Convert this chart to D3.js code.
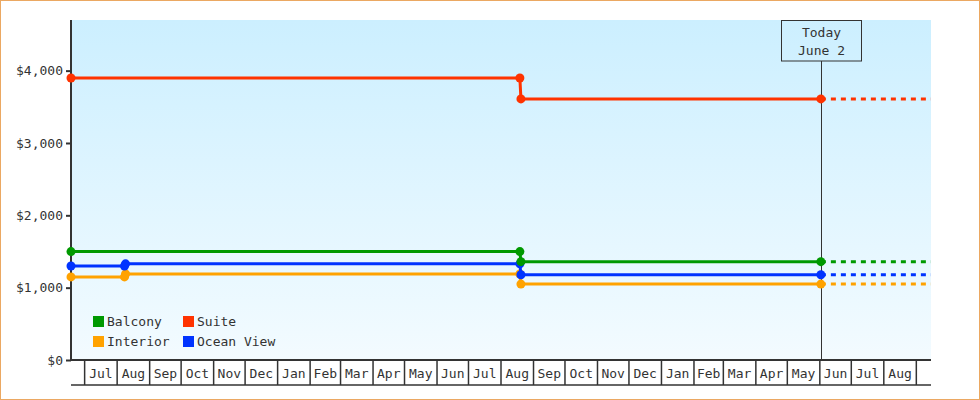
<!DOCTYPE html>
<html>
<head>
<meta charset="utf-8">
<script src="https://cdn.jsdelivr.net/npm/d3@7"></script>
<style>
  html, body { margin: 0; padding: 0; background: #fff; }
  #chart { width: 980px; height: 400px; box-sizing: border-box; border: 1px solid #eba862; }
  text { font-family: "DejaVu Sans Mono", monospace; font-size: 13px; fill: #333; }
</style>
</head>
<body>
<div id="chart"></div>
<script>
// ── DATA ─────────────────────────────────────────────────────────────────────
const seriesNames = ['Balcony', 'Suite', 'Interior', 'Ocean View'];
const balcony   = [['2023-06-18', 1499], ['2024-08-19', 1499], ['2024-08-20', 1359], ['2025-06-02', 1359]];
const suite     = [['2023-06-18', 3899], ['2024-08-19', 3899], ['2024-08-20', 3609], ['2025-06-02', 3609]];
const interior  = [['2023-06-18', 1149], ['2023-08-08', 1149], ['2023-08-09', 1189], ['2024-08-19', 1189], ['2024-08-20', 1049], ['2025-06-02', 1049]];
const oceanView = [['2023-06-18', 1299], ['2023-08-08', 1299], ['2023-08-09', 1329], ['2024-08-19', 1329], ['2024-08-20', 1179], ['2025-06-02', 1179]];
const todayDate = '2025-06-02';
const todayLabel = ['Today', 'June 2'];
const xDomain = ['2023-06-18', '2025-09-15'];
const yDomain = [0, 4700];
const yTicks = [0, 1000, 2000, 3000, 4000];

// ── STYLE ────────────────────────────────────────────────────────────────────
const colors = { 'Balcony': '#009900', 'Suite': '#ff3300', 'Interior': '#ffa200', 'Ocean View': '#0033ff' };
const drawOrder = ['Interior', 'Ocean View', 'Balcony', 'Suite'];
const dataByName = { 'Balcony': balcony, 'Suite': suite, 'Interior': interior, 'Ocean View': oceanView };

// ── DIMENSIONS ───────────────────────────────────────────────────────────────
const W = 978, H = 398;
const plot = { left: 70, right: 930, top: 19, bottom: 359 };
const bandH = 25;

const parse = d3.timeParse('%Y-%m-%d');

const svg = d3.select('#chart').append('svg')
  .attr('width', W).attr('height', H);

const x = d3.scaleTime().domain(xDomain.map(parse)).range([plot.left, plot.right]);
const y = d3.scaleLinear().domain(yDomain).range([plot.bottom, plot.top]);

// background gradient
const grad = svg.append('defs').append('linearGradient')
  .attr('id', 'bg').attr('x1', 0).attr('y1', 0).attr('x2', 0).attr('y2', 1);
grad.append('stop').attr('offset', '0%').attr('stop-color', '#ccefff');
grad.append('stop').attr('offset', '100%').attr('stop-color', '#f3fbff');

svg.append('rect')
  .attr('x', plot.left).attr('y', plot.top)
  .attr('width', plot.right - plot.left).attr('height', plot.bottom - plot.top)
  .attr('fill', 'url(#bg)');

// ── Y AXIS ───────────────────────────────────────────────────────────────────
const yAxis = svg.append('g')
  .attr('transform', `translate(${plot.left},0)`)
  .call(d3.axisLeft(y).tickValues(yTicks).tickSize(5).tickPadding(3)
    .tickFormat(d => '$' + d3.format(',')(d)));
yAxis.select('.domain').remove();
yAxis.selectAll('.tick line').attr('stroke', '#333').attr('stroke-width', 2);
yAxis.selectAll('.tick text').attr('fill', '#333').style('font-size', '13px')
  .style('font-family', '"DejaVu Sans Mono", monospace');

svg.append('line')
  .attr('x1', plot.left).attr('x2', plot.left)
  .attr('y1', plot.top).attr('y2', plot.bottom + 1)
  .attr('stroke', '#333').attr('stroke-width', 2);

// ── MONTH BAND (X AXIS) ──────────────────────────────────────────────────────
const [d0, d1] = x.domain();
const months = d3.timeMonth.range(d3.timeMonth.floor(d0), d1);
svg.append('line')
  .attr('x1', plot.left).attr('x2', plot.right)
  .attr('y1', plot.bottom).attr('y2', plot.bottom)
  .attr('stroke', '#333').attr('stroke-width', 2);
svg.append('line')
  .attr('x1', plot.left).attr('x2', plot.right)
  .attr('y1', plot.bottom + bandH).attr('y2', plot.bottom + bandH)
  .attr('stroke', '#333').attr('stroke-width', 1.5);

const bandG = svg.append('g');
months.forEach(m => {
  const next = d3.timeMonth.offset(m, 1);
  const a = Math.max(x(m), plot.left);
  const b = Math.min(x(next), plot.right);
  if (m >= d0) {
    bandG.append('line')
      .attr('x1', x(m)).attr('x2', x(m))
      .attr('y1', plot.bottom).attr('y2', plot.bottom + bandH)
      .attr('stroke', '#333').attr('stroke-width', 1.5);
  }
  if (m >= d0 && next <= d1) {
    bandG.append('text')
      .attr('x', (a + b) / 2).attr('y', plot.bottom + 18)
      .attr('text-anchor', 'middle')
      .text(d3.timeFormat('%b')(m));
  }
});

// ── TODAY MARKER ─────────────────────────────────────────────────────────────
const tx = Math.round(x(parse(todayDate))) + 0.5;
svg.append('line')
  .attr('x1', tx).attr('x2', tx)
  .attr('y1', plot.top + 41).attr('y2', plot.bottom)
  .attr('stroke', '#333').attr('stroke-width', 1);
svg.append('rect')
  .attr('x', tx - 40).attr('y', plot.top + 0.5)
  .attr('width', 80).attr('height', 40.5)
  .attr('fill', 'none').attr('stroke', '#333').attr('stroke-width', 1);
todayLabel.forEach((t, i) => {
  svg.append('text')
    .attr('x', tx).attr('y', plot.top + 17 + i * 18)
    .attr('text-anchor', 'middle')
    .text(t);
});

// ── SERIES ───────────────────────────────────────────────────────────────────
const line = d3.line()
  .x(d => x(parse(d[0])))
  .y(d => y(d[1]));

drawOrder.forEach(name => {
  const data = dataByName[name];
  const last = data[data.length - 1];

  // projected (dotted) continuation to the end of the axis
  svg.append('path')
    .attr('d', line([last, [xDomain[1], last[1]]]))
    .attr('fill', 'none')
    .attr('stroke', colors[name])
    .attr('stroke-width', 3)
    .attr('stroke-dasharray', '5,5');

  svg.append('path')
    .attr('d', line(data))
    .attr('fill', 'none')
    .attr('stroke', colors[name])
    .attr('stroke-width', 3);

  svg.selectAll(null)
    .data(data)
    .join('circle')
      .attr('cx', d => x(parse(d[0])))
      .attr('cy', d => y(d[1]))
      .attr('r', 4.5)
      .attr('fill', colors[name]);
});

// ── LEGEND ───────────────────────────────────────────────────────────────────
const legend = svg.append('g').attr('transform', 'translate(92,315)');
seriesNames.forEach((name, i) => {
  const col = i % 2, row = Math.floor(i / 2);
  const g = legend.append('g').attr('transform', `translate(${col * 90},${row * 20})`);
  g.append('rect').attr('width', 11).attr('height', 11).attr('fill', colors[name]);
  g.append('text').attr('x', 14).attr('y', 10).text(name);
});
</script>
</body>
</html>
